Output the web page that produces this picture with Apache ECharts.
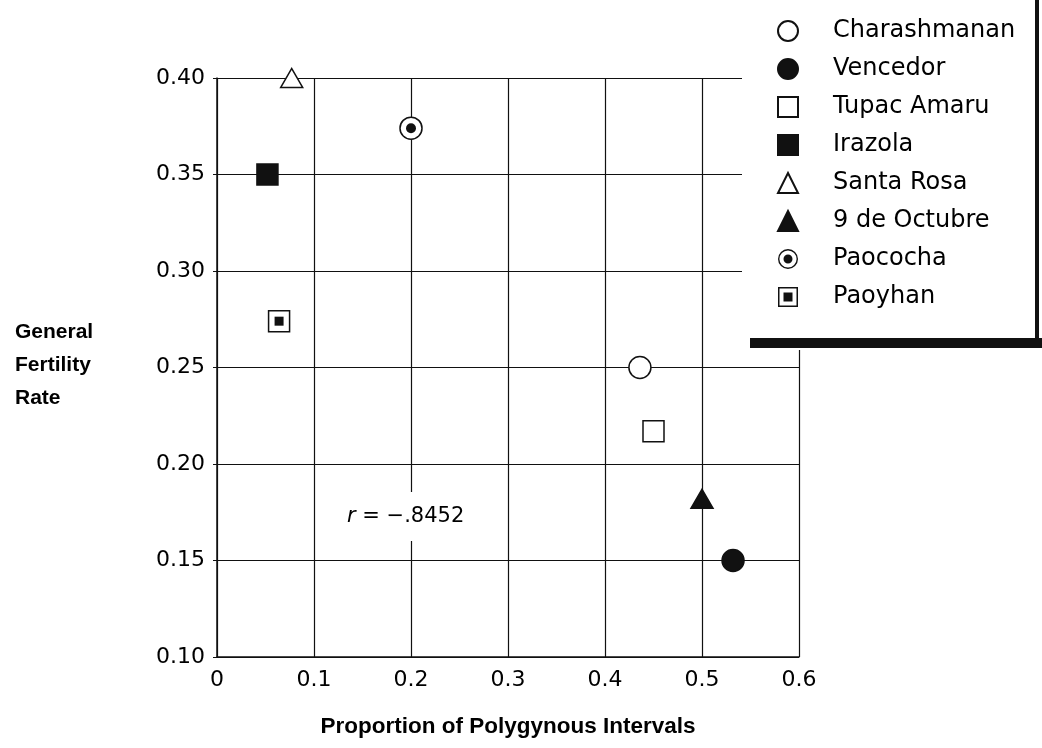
<!DOCTYPE html>
<html>
<head>
<meta charset="utf-8">
<title>General Fertility Rate vs Polygynous Intervals</title>
<script src="https://cdn.jsdelivr.net/npm/echarts@6/dist/echarts.min.js"></script>
<style>
  html, body { margin: 0; padding: 0; background: #fff; }
  #main { width: 1042px; height: 748px; }
</style>
</head>
<body>
<div id="main"></div>
<script>
// villages, in legend order
var villages = ['Charashmanan', 'Vencedor', 'Tupac Amaru', 'Irazola', 'Santa Rosa', '9 de Octubre', 'Paococha', 'Paoyhan'];
// proportion of polygynous intervals
var polyProp = [0.436, 0.532, 0.45, 0.052, 0.077, 0.5, 0.2, 0.064];
// general fertility rate
var fertRate = [0.25, 0.15, 0.217, 0.35, 0.40, 0.182, 0.374, 0.274];
var xTicks = [0, 0.1, 0.2, 0.3, 0.4, 0.5, 0.6];
var yTicks = [0.10, 0.15, 0.20, 0.25, 0.30, 0.35, 0.40];
var rText = '{i|r} = \u2212.8452';

var FONT = 'DejaVu Sans, Liberation Sans, Arial, sans-serif';
var BOLD_FONT = 'Liberation Sans, Arial, Helvetica, sans-serif';
var INK = '#111';

// marker look for each village
var markers = {
    'Charashmanan': {symbol: 'circle', size: 22, fill: '#fff'},
    'Vencedor': {symbol: 'circle', size: 22, fill: INK},
    'Tupac Amaru': {symbol: 'rect', size: 21, fill: '#fff'},
    'Irazola': {symbol: 'rect', size: 21, fill: INK},
    'Santa Rosa': {symbol: 'triangle', size: [22, 19], fill: '#fff'},
    '9 de Octubre': {symbol: 'triangle', size: [22, 19], fill: INK},
    'Paococha': {symbol: 'circle', size: 22, fill: '#fff', inner: 'circle', innerSize: 10},
    'Paoyhan': {symbol: 'rect', size: 21, fill: '#fff', inner: 'rect', innerSize: 9}
};

var ringDotIcon = 'path://M10,0A10,10,0,1,1,10,20A10,10,0,1,1,10,0Z M10,1.4A8.6,8.6,0,1,0,10,18.6A8.6,8.6,0,1,0,10,1.4Z M10,5.5A4.5,4.5,0,1,1,10,14.5A4.5,4.5,0,1,1,10,5.5Z';
var boxDotIcon = 'path://M0,0H20V20H0Z M1.5,1.5V18.5H18.5V1.5Z M5.5,5.5H14.5V14.5H5.5Z';

var series = [];
villages.forEach(function (name, i) {
    var m = markers[name];
    series.push({
        name: name,
        type: 'scatter',
        symbol: m.symbol,
        symbolSize: m.size,
        z: 3,
        itemStyle: {color: m.fill, borderColor: INK, borderWidth: 1.5, opacity: 1},
        data: [[polyProp[i], fertRate[i]]]
    });
    if (m.inner) {
        series.push({
            name: name,
            type: 'scatter',
            symbol: m.inner,
            symbolSize: m.innerSize,
            z: 4,
            itemStyle: {color: INK, opacity: 1},
            data: [[polyProp[i], fertRate[i]]]
        });
    }
});

var legendData = villages.map(function (name) {
    if (name === 'Paococha') return {name: name, icon: ringDotIcon, itemStyle: {color: INK, borderWidth: 0}};
    if (name === 'Paoyhan') return {name: name, icon: boxDotIcon, itemStyle: {color: INK, borderWidth: 0}};
    return {name: name};
});

var chart = echarts.init(document.getElementById('main'), null, {renderer: 'canvas'});
chart.setOption({
    backgroundColor: '#fff',
    animation: false,
    textStyle: {fontFamily: FONT, color: '#000'},
    grid: {left: 217, right: 243, top: 78, bottom: 91},
    xAxis: {
        type: 'value',
        min: xTicks[0],
        max: xTicks[xTicks.length - 1],
        interval: 0.1,
        name: 'Proportion of Polygynous Intervals',
        nameLocation: 'middle',
        nameGap: 58,
        nameTextStyle: {fontFamily: BOLD_FONT, fontSize: 22.5, fontWeight: 'bold', color: '#000'},
        axisLine: {show: true, lineStyle: {color: INK, width: 1.5}},
        axisTick: {show: false},
        axisLabel: {
            fontSize: 22, color: '#000', margin: 12,
            formatter: function (v) { return v === 0 ? '0' : v.toFixed(1); }
        },
        splitLine: {show: true, lineStyle: {color: INK, width: 1.2}}
    },
    yAxis: {
        type: 'value',
        min: yTicks[0],
        max: yTicks[yTicks.length - 1],
        interval: 0.05,
        axisLine: {show: true, lineStyle: {color: INK, width: 1.5}},
        axisTick: {show: true, length: 4, lineStyle: {color: INK}},
        axisLabel: {
            fontSize: 22, color: '#000', margin: 12,
            formatter: function (v) { return v.toFixed(2); }
        },
        splitLine: {show: true, lineStyle: {color: INK, width: 1.2}}
    },
    legend: {
        orient: 'vertical',
        left: 772,
        top: 14,
        z: 10,
        itemWidth: 20,
        itemHeight: 20,
        itemGap: 14,
        selectedMode: false,
        textStyle: {fontFamily: FONT, fontSize: 24, lineHeight: 24, color: '#000', padding: [0, 0, 0, 30]},
        data: legendData
    },
    graphic: [
        // legend backdrop covers the grid, with heavy right and bottom edges
        {type: 'rect', z: 5, shape: {x: 742, y: 0, width: 296, height: 350}, style: {fill: '#fff'}},
        {type: 'rect', z: 6, shape: {x: 1035, y: 0, width: 4, height: 348}, style: {fill: INK}},
        {type: 'rect', z: 6, shape: {x: 750, y: 338, width: 292, height: 10}, style: {fill: INK}},
        {
            type: 'text', z: 6, left: 65 - 50, top: 366 - 50,
            style: {
                x: 50, y: 50,
                text: 'General\nFertility\nRate',
                font: 'bold 21px ' + BOLD_FONT,
                lineHeight: 33,
                fill: '#000',
                align: 'center',
                verticalAlign: 'middle'
            }
        },
        {
            type: 'text', z: 6, left: 339, top: 492,
            style: {
                text: rText,
                font: '21px ' + FONT,
                fill: '#000',
                backgroundColor: '#fff',
                padding: [14, 8, 14, 8],
                rich: {i: {fontStyle: 'italic', fontSize: 21, fontFamily: FONT}}
            }
        }
    ],
    series: series
});
</script>
</body>
</html>
